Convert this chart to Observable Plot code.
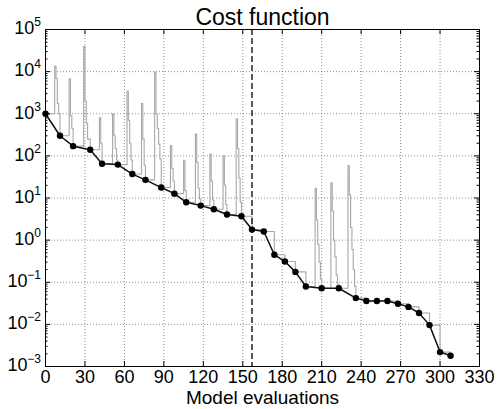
<!DOCTYPE html>
<html><head><meta charset="utf-8">
<script src="https://cdn.jsdelivr.net/npm/d3@7"></script>
<script src="https://cdn.jsdelivr.net/npm/@observablehq/plot@0.6"></script>
<style>
body{margin:0;background:#fff;}
svg{display:block;font-family:"Liberation Sans",Arial,Helvetica,sans-serif;}
</style>
</head><body><div id="chart"></div>
<script>
const title = "Cost function";
const xLabel = "Model evaluations";

// accepted iterations (black dots)
const iterX = [0, 11, 21, 34, 43, 55, 66, 76, 88, 98, 107, 118, 128, 138, 149, 157, 166, 174, 182, 190, 198, 210, 223, 236, 244, 252, 260, 268, 276, 284, 292, 300, 308];
const iterCost = [1000, 300, 170, 140, 65, 62, 37, 27, 17.7, 12.7, 7.9, 6.6, 5.4, 4.05, 3.7, 1.78, 1.6, 0.45, 0.31, 0.176, 0.079, 0.072, 0.072, 0.042, 0.036, 0.036, 0.036, 0.031, 0.026, 0.0186, 0.0096, 0.0022, 0.0018];

// every model evaluation (grey step line)
const evalX = [0, 7, 8, 9, 10, 11, 18, 19, 20, 21, 29, 30, 31, 32, 34, 41, 42, 43, 51, 52, 53, 54, 55, 62, 63, 64, 65, 66, 73, 74, 75, 76, 83, 84, 85, 86, 87, 88, 95, 96, 97, 98, 105, 106, 107, 114, 115, 116, 117, 118, 125, 126, 127, 128, 135, 136, 137, 138, 145, 146, 147, 148, 149, 157, 166, 174, 182, 190, 198, 205, 206, 207, 208, 209, 210, 217, 218, 219, 220, 221, 222, 223, 230, 231, 232, 233, 234, 235, 236, 244, 252, 260, 268, 276, 284, 292, 300, 308];
const evalCost = [1000, 13500, 6900, 1750, 1000, 300, 6800, 900, 450, 170, 40000, 2000, 600, 250, 140, 800, 200, 65, 1000, 300, 150, 80, 62, 3400, 700, 200, 80, 37, 1750, 250, 60, 27, 9800, 1000, 450, 190, 85, 17.7, 175, 50, 25, 12.7, 78, 15, 7.9, 330, 70, 17, 9.5, 6.6, 110, 25, 9, 5.4, 100, 20, 7, 4.05, 760, 150, 30, 8, 3.7, 1.78, 1.6, 0.45, 0.31, 0.176, 0.079, 17, 3, 0.8, 0.3, 0.12, 0.072, 23, 5, 1, 0.4, 0.15, 0.09, 0.072, 59, 12, 2, 0.6, 0.2, 0.08, 0.042, 0.036, 0.036, 0.036, 0.031, 0.026, 0.0186, 0.0096, 0.0022, 0.0018];

const switchX = [157];
const xTicks = [0, 30, 60, 90, 120, 150, 180, 210, 240, 270, 300, 330];
const yExponents = [-3, -2, -1, 0, 1, 2, 3, 4, 5];
const minorMultipliers = [2, 3, 4, 5, 6, 7, 8, 9];

const iters = iterX.map((x, i) => ({x, y: iterCost[i]}));
const evals = evalX.map((x, i) => ({x, y: evalCost[i]}));
const yTicks = yExponents.map(e => ({v: Math.pow(10, e), e}));
const yMinor = yExponents.slice(0, -1).flatMap(e => minorMultipliers.map(m => m * Math.pow(10, e)));
const expText = e => (e < 0 ? "\u2212" + Math.abs(e) : String(e));

const W = 497, H = 409;
const M = {top: 29, right: 18, bottom: 43, left: 45};
const pw = W - M.left - M.right, ph = H - M.top - M.bottom;
const gridStyle = {stroke: "#000", strokeOpacity: 0.55, strokeWidth: 0.8, strokeDasharray: "1,2"};

const chart = Plot.plot({
  width: W, height: H,
  marginTop: M.top, marginRight: M.right, marginBottom: M.bottom, marginLeft: M.left,
  x: {domain: [0, 330], axis: null},
  y: {type: "log", domain: [1e-3, 1e5], axis: null},
  marks: [
    Plot.ruleX(xTicks.slice(1, -1), {x: d => d, ...gridStyle}),
    Plot.ruleY(yTicks.slice(1, -1), {y: "v", ...gridStyle}),
    Plot.line(evals, {x: "x", y: "y", curve: "step-after", stroke: "#a8a8a8", strokeWidth: 1.1}),
    Plot.ruleX(switchX, {x: d => d, stroke: "#000", strokeWidth: 1.3, strokeDasharray: "6,3"}),
    Plot.line(iters, {x: "x", y: "y", stroke: "#111", strokeWidth: 1.5}),
    Plot.dot(iters, {x: "x", y: "y", r: 3.2, fill: "#000", stroke: null}),
    // inward ticks
    Plot.ruleX(xTicks, {x: d => d, insetTop: ph - 5, stroke: "#000"}),
    Plot.ruleX(xTicks, {x: d => d, insetBottom: ph - 5, stroke: "#000"}),
    Plot.ruleY(yTicks, {y: "v", insetRight: pw - 5, stroke: "#000"}),
    Plot.ruleY(yTicks, {y: "v", insetLeft: pw - 5, stroke: "#000"}),
    Plot.ruleY(yMinor, {y: d => d, insetRight: pw - 2.5, stroke: "#000"}),
    Plot.ruleY(yMinor, {y: d => d, insetLeft: pw - 2.5, stroke: "#000"}),
    Plot.frame({stroke: "#000", strokeWidth: 1}),
    // x tick labels
    Plot.text(xTicks, {x: d => d, text: d => String(d), frameAnchor: "bottom", lineAnchor: "top", dy: 4, fontSize: 18, fill: "#000"}),
    // y tick labels 10^e
    Plot.text(yTicks.filter(d => d.e >= 0), {y: "v", text: () => "10", frameAnchor: "left", textAnchor: "end", lineAnchor: "middle", dx: -11.2, dy: -1, fontSize: 18, fill: "#000"}),
    Plot.text(yTicks.filter(d => d.e < 0), {y: "v", text: () => "10", frameAnchor: "left", textAnchor: "end", lineAnchor: "middle", dx: -18, dy: -1, fontSize: 18, fill: "#000"}),
    Plot.text(yTicks, {y: "v", text: d => expText(d.e), frameAnchor: "left", textAnchor: "end", lineAnchor: "middle", dx: -4.5, dy: -7, fontSize: 12, fill: "#000"}),
    // axis label and title
    Plot.text([xLabel], {text: d => d, frameAnchor: "bottom", lineAnchor: "middle", dy: 31.5, fontSize: 19, fill: "#000"}),
    Plot.text([title], {text: d => d, frameAnchor: "top", lineAnchor: "middle", dy: -11.5, fontSize: 23, fill: "#000"})
  ]
});
document.getElementById("chart").appendChild(chart);
</script>
</body></html>
